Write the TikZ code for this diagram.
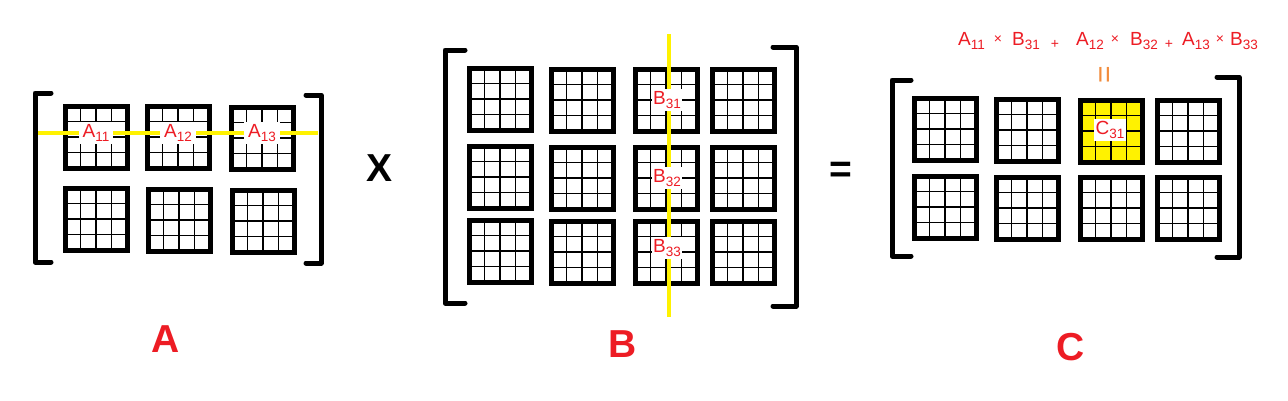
\documentclass[tikz,border=0pt]{standalone}
\usepackage{fontspec}
\setmainfont{Liberation Sans}
\usepackage{tikz}
\usetikzlibrary{calc}

\definecolor{paintred}{RGB}{237,28,36}
\definecolor{paintyellow}{RGB}{255,242,0}
\definecolor{paintorange}{RGB}{242,140,60}

% subscript in the labels
\newcommand{\sbs}[1]{\raisebox{-0.25em}{\fontsize{13.5}{13.5}\selectfont #1}}
% one block: optional fill, name, centre
\newcommand{\blk}[3][white]{%
  \node[blk, fill=#1] (#2) at (#3) {};
  \foreach \k in {1,2,3} {
    \draw[line width=1.2] ($(#2.north west)!\k/4!(#2.north east)$) -- ($(#2.south west)!\k/4!(#2.south east)$);
    \draw[line width=1.2] ($(#2.north west)!\k/4!(#2.south west)$) -- ($(#2.north east)!\k/4!(#2.south east)$);
  }%
}

\tikzset{
  blk/.style={draw, line width=5, minimum size=62, inner sep=0, outer sep=0},
  brk/.style={line width=5, line cap=round, line join=round},
  hl/.style={paintyellow, line width=4.5},
  lbl/.style={fill=white, text=paintred, inner xsep=4, inner ysep=2, font=\fontsize{19}{19}\selectfont},
  fml/.style={anchor=base west, inner sep=0, text=paintred, font=\fontsize{19}{19}\selectfont},
  op/.style={inner sep=0, text=paintred, font=\fontsize{14}{14}\selectfont},
  big/.style={inner sep=0, font=\fontsize{39}{39}\selectfont\bfseries}
}

\begin{document}
\begin{tikzpicture}[x=1pt, y=-1pt]
  \useasboundingbox[fill=white] (0,0) rectangle (1288,400);

  % matrix A
  \draw[brk] (51,93) -- (35,93) -- (35,262) -- (51,262);
  \draw[brk] (306,95) -- (321,95) -- (321,263) -- (306,263);
  \blk{a1}{96,137} \blk{a2}{178,137} \blk{a3}{262,138}
  \blk{a4}{96,219} \blk{a5}{179,220} \blk{a6}{263,221}
  \coordinate (aL) at (38,133);
  \coordinate (aR) at (318,133);
  \draw[hl] (aL) -- (aR);
  \node[lbl] (a11) at (96,133) {A\sbs{11}};
  \node[lbl] (a12) at (178,133) {A\sbs{12}};
  \node[lbl] (a13) at (262,133) {A\sbs{13}};
  \node[big, text=paintred] (nameA) at (166,339) {A};

  \node[big] (times) at (380,168) {X};

  % matrix B
  \draw[brk] (465,50) -- (445,50) -- (445,303) -- (465,303);
  \draw[brk] (773,47) -- (796,47) -- (796,306) -- (773,306);
  \blk{b1}{500,99} \blk{b2}{582,100} \blk{b3}{666,100} \blk{b4}{743,100}
  \blk{b5}{500,177} \blk{b6}{582,178} \blk{b7}{666,178} \blk{b8}{743,178}
  \blk{b9}{500,251} \blk{b10}{582,252} \blk{b11}{666,252} \blk{b12}{743,252}
  \coordinate (bT) at (669,34);
  \coordinate (bB) at (669,317);
  \draw[hl] (bT) -- (bB);
  \node[lbl, inner xsep=1] (b31) at (667,100) {B\sbs{31}};
  \node[lbl, inner xsep=1] (b32) at (667,178) {B\sbs{32}};
  \node[lbl, inner xsep=1] (b33) at (667,248) {B\sbs{33}};
  \node[big, text=paintred] (nameB) at (623,344) {B};

  \node[big] (equals) at (841,172) {=};

  % matrix C
  \draw[brk] (911,80) -- (892,80) -- (892,256) -- (911,256);
  \draw[brk] (1217,77) -- (1239,77) -- (1239,257) -- (1217,257);
  \blk{c1}{945,129} \blk{c2}{1027,130} \blk[paintyellow]{c3}{1111,131} \blk{c4}{1188,131}
  \blk{c5}{945,207} \blk{c6}{1027,208} \blk{c7}{1111,208} \blk{c8}{1188,208}
  \node[lbl, inner xsep=2] (c31) at (1110,130) {C\sbs{31}};
  \node[big, text=paintred] (nameC) at (1071,347) {C};

  % the sum above C31
  \node[fml] (t1) at (958,45) {A\sbs{11}};
  \node[op] (m1) at (998,40) {×};
  \node[fml] (t2) at (1012,45) {B\sbs{31}};
  \node[op] (p1) at (1055,44) {+};
  \node[fml] (t3) at (1076,45) {A\sbs{12}};
  \node[op] (m2) at (1115,40) {×};
  \node[fml] (t4) at (1130,45) {B\sbs{32}};
  \node[op] (p2) at (1169,44) {+};
  \node[fml] (t5) at (1182,45) {A\sbs{13}};
  \node[op] (m3) at (1220,40) {×};
  \node[fml] (t6) at (1230,45) {B\sbs{33}};
  \node[rotate=90, inner sep=0, text=paintorange, font=\fontsize{30}{30}\selectfont] (same) at (1107,75) {=};
\end{tikzpicture}
\end{document}
